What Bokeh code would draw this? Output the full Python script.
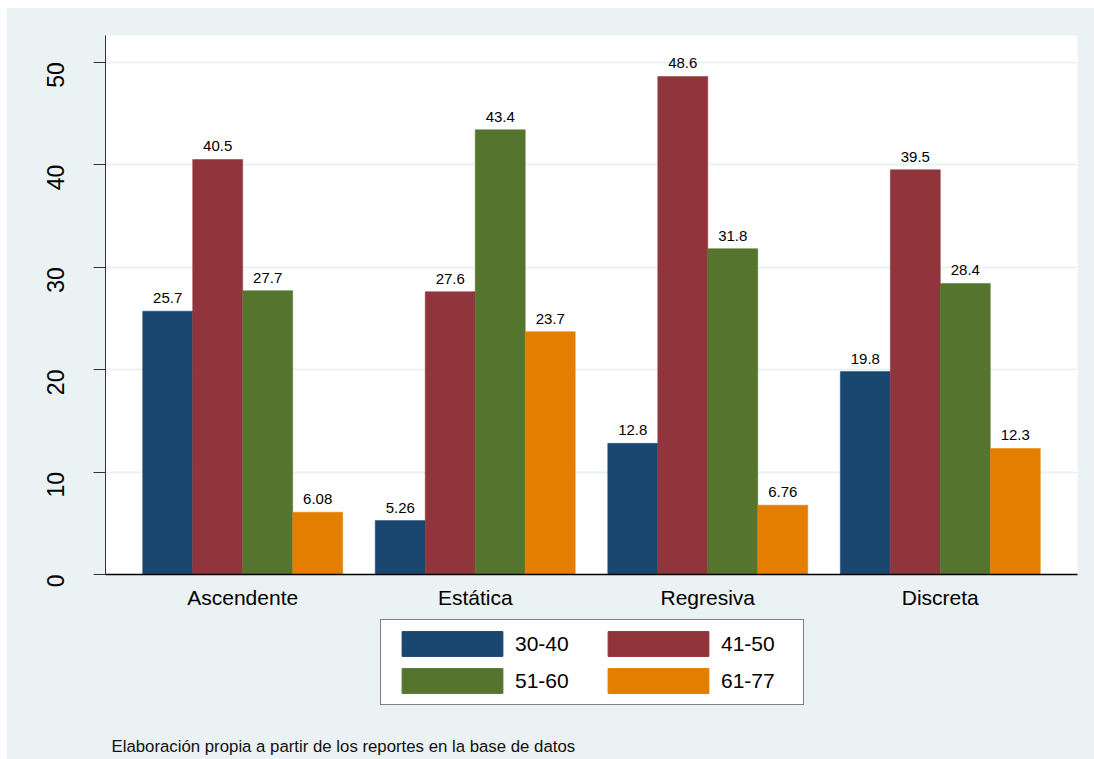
from bokeh.plotting import figure
from bokeh.layouts import column
from bokeh.models import (ColumnDataSource, Range1d, FixedTicker, Legend, LegendItem,
                          LabelSet, Label)
from bokeh.core.properties import value
from bokeh.embed import file_html
from bokeh.resources import INLINE
import math

# Data: percentage by trajectory type and age group
categories = ["Ascendente", "Estática", "Regresiva", "Discreta"]
groups = ["30-40", "41-50", "51-60", "61-77"]
v_30_40 = [25.7, 5.26, 12.8, 19.8]
v_41_50 = [40.5, 27.6, 48.6, 39.5]
v_51_60 = [27.7, 43.4, 31.8, 28.4]
v_61_77 = [6.08, 23.7, 6.76, 12.3]
series = [v_30_40, v_41_50, v_51_60, v_61_77]
colors = ["#1A476F", "#90353B", "#55752F", "#E37E00"]
y_ticks = [0, 10, 20, 30, 40, 50]
footnote = "Elaboración propia a partir de los reportes en la base de datos"

BG = "#EAF2F3"
FONT = "Liberation Sans"

# ---- main bar chart ----
p = figure(width=1087, height=604, output_backend="svg", toolbar_location=None,
           x_range=Range1d(0.41, 4.59), y_range=Range1d(0, 52.6),
           min_border_left=98, min_border_right=17, min_border_top=27,
           min_border_bottom=38)
p.background_fill_color = "white"
p.border_fill_color = BG
p.outline_line_color = None

p.xaxis.ticker = FixedTicker(ticks=[1, 2, 3, 4])
p.xaxis.major_label_overrides = {i + 1: c for i, c in enumerate(categories)}
p.xaxis.major_tick_out = 0
p.xaxis.major_tick_in = 0
p.xaxis.minor_tick_line_color = None
p.xaxis.axis_line_color = "black"
p.xaxis.axis_line_width = 1.4
p.xaxis.major_label_text_font = FONT
p.xaxis.major_label_text_font_size = "21px"
p.xaxis.major_label_text_color = "black"
p.xaxis.major_label_standoff = 11

p.yaxis.ticker = FixedTicker(ticks=y_ticks)
p.yaxis.major_label_orientation = math.pi / 2
p.yaxis.major_tick_out = 12
p.yaxis.major_tick_in = 0
p.yaxis.minor_tick_line_color = None
p.yaxis.axis_line_color = "#333333"
p.yaxis.major_tick_line_color = "#333333"
p.yaxis.major_label_text_font = FONT
p.yaxis.major_label_text_font_size = "23px"
p.yaxis.major_label_text_color = "black"
p.yaxis.major_label_standoff = 38

p.xgrid.grid_line_color = None
p.ygrid.grid_line_color = BG
p.ygrid.grid_line_width = 2

w = 0.215
offsets = [-1.5 * w, -0.5 * w, 0.5 * w, 1.5 * w]
for g, vals, col, off in zip(groups, series, colors, offsets):
    src = ColumnDataSource(dict(
        x=[i + 1 + off for i in range(len(categories))],
        top=vals,
        lab=[f"{v:g}" for v in vals],
    ))
    p.vbar(x="x", top="top", bottom=0, width=w, source=src,
           fill_color=col, line_color=col, line_width=0.5)
    p.add_layout(LabelSet(x="x", y="top", text="lab", source=src,
                          text_align="center", text_baseline="bottom",
                          y_offset=8, text_font=value(FONT),
                          text_font_size=value("15px"), text_color="black"))

# ---- legend and source note strip (frame aligned with the chart above) ----
q = figure(width=1087, height=147, output_backend="svg", toolbar_location=None,
           x_range=Range1d(0, 1), y_range=Range1d(0, 1),
           min_border_left=98, min_border_right=17, min_border_top=0,
           min_border_bottom=0)
q.axis.visible = False
q.grid.visible = False
q.background_fill_color = None
q.border_fill_color = BG
q.outline_line_color = None

# legend keys: one undrawn (NaN height) bar per age group
swatches = {}
for g, col in zip(groups, colors):
    swatches[g] = q.vbar(x=[0.5], top=[float("nan")], width=0.1,
                         fill_color=col, line_color=col)

# row-wise order: 30-40 | 41-50 / 51-60 | 61-77
order = [groups[0], groups[2], groups[1], groups[3]]
legend = Legend(items=[LegendItem(label=g, renderers=[swatches[g]]) for g in order],
                ncols=2, location=(275, 54),
                glyph_width=126, glyph_height=31, label_width=74,
                label_standoff=0, spacing=6, padding=8,
                label_text_font=FONT, label_text_font_size="21px",
                label_text_color="black",
                border_line_color="black", border_line_width=1,
                background_fill_color="white", background_fill_alpha=1.0)
q.add_layout(legend, "center")

q.add_layout(Label(x=6, y=13, x_units="screen", y_units="screen",
                   text=footnote, text_font=FONT, text_font_size="16.8px",
                   text_color="#111111", text_baseline="alphabetic"))

layout = column(p, q, spacing=0)
layout.margin = (8, 0, 0, 7)
layout.styles = {"background-color": BG}

open("out.html", "w").write(file_html(layout, INLINE))
